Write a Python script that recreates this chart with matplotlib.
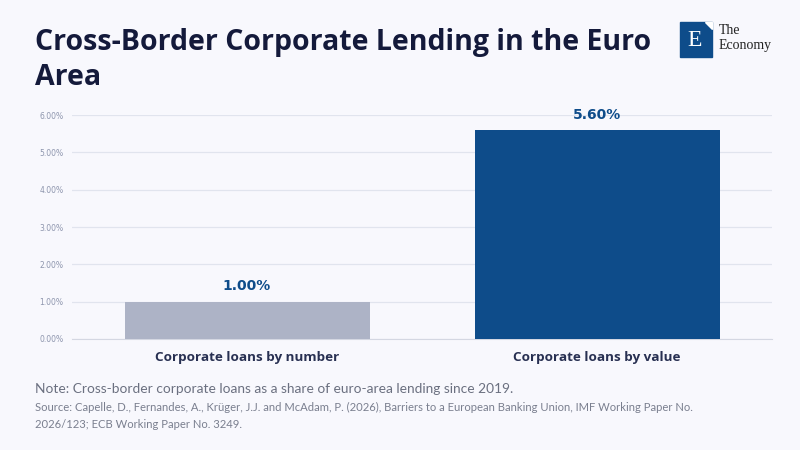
import matplotlib.pyplot as plt
from matplotlib.patches import Rectangle, Polygon
from matplotlib.ticker import FuncFormatter, MultipleLocator

# --- data ---
categories = ["Corporate loans by number", "Corporate loans by value"]
shares = [1.00, 5.60]
bar_colors = ["#adb3c6", "#0e4c8a"]

title_lines = ["Cross-Border Corporate Lending in the Euro", "Area"]
note = "Note: Cross-border corporate loans as a share of euro-area lending since 2019."
source_lines = ["Source: Capelle, D., Fernandes, A., Krüger, J.J. and McAdam, P. (2026), Barriers to a European Banking Union, IMF Working Paper No.",
                "2026/123; ECB Working Paper No. 3249."]

bg = "#f8f8fd"
fig = plt.figure(figsize=(8, 4.5), dpi=100, facecolor=bg)
ax = fig.add_axes([0.09, 0.2467, 0.875, 0.4977], facecolor=bg)

x = range(len(categories))
ax.bar(x, shares, width=0.7, color=bar_colors, zorder=3)
for i, v in zip(x, shares):
    ax.text(i, v + 0.22, f"{v:.2f}%", ha="center", va="bottom", fontsize=10,
            fontweight="bold", color="#0e4c8a", family="DejaVu Sans")

ax.set_xlim(-0.5, 1.5)
ax.set_ylim(0, 6)
ax.yaxis.set_major_locator(MultipleLocator(1))
ax.yaxis.set_major_formatter(FuncFormatter(lambda v, p: f"{v:.2f}%"))
ax.grid(axis="y", color="#e1e4ee", linewidth=0.9, zorder=0)
for s in ["top", "right", "left"]:
    ax.spines[s].set_visible(False)
ax.spines["bottom"].set_color("#d4d7e2")
ax.tick_params(axis="y", length=0, labelsize=5.5, labelcolor="#8d95ad", pad=6)
ax.tick_params(axis="x", length=0, pad=9)
ax.set_xticks(list(x))
ax.set_xticklabels(categories, fontsize=9.7, fontweight="bold", color="#283052",
                   family="Open Sans")

# --- title & notes ---
for k, line in enumerate(title_lines):
    fig.text(35 / 800, 1 - (50 + 35 * k) / 450, line, ha="left", va="baseline",
             fontsize=20.5, fontweight="bold", color="#141a3b", family="Open Sans")
fig.text(35 / 800, 1 - 393 / 450, note, ha="left", va="baseline", fontsize=9.9,
         color="#6b7080", family="Lato")
for k, line in enumerate(source_lines):
    fig.text(35 / 800, 1 - (411 + 17 * k) / 450, line, ha="left", va="baseline",
             fontsize=8.1, color="#7a7f8f", family="Lato")

# --- logo ---
fig.patches.append(Rectangle((680 / 800, 1 - 57 / 450), 32 / 800, 35 / 450,
                             transform=fig.transFigure, color="#0e4c8a"))
fig.patches.append(Polygon([(705 / 800, 1 - 22 / 450), (712 / 800, 1 - 22 / 450),
                            (712 / 800, 1 - 29 / 450)], closed=True,
                           transform=fig.transFigure, color="white"))
fig.text(695 / 800, 1 - 40 / 450, "E", ha="center", va="center", fontsize=17,
         color="white", family="Liberation Serif")
fig.text(719 / 800, 1 - 31 / 450, "The", ha="left", va="center", fontsize=10,
         color="#222222", family="Liberation Serif")
fig.text(719 / 800, 1 - 45 / 450, "Economy", ha="left", va="center", fontsize=10,
         color="#222222", family="Liberation Serif")

fig.savefig("out.png", dpi=100, facecolor=bg)
